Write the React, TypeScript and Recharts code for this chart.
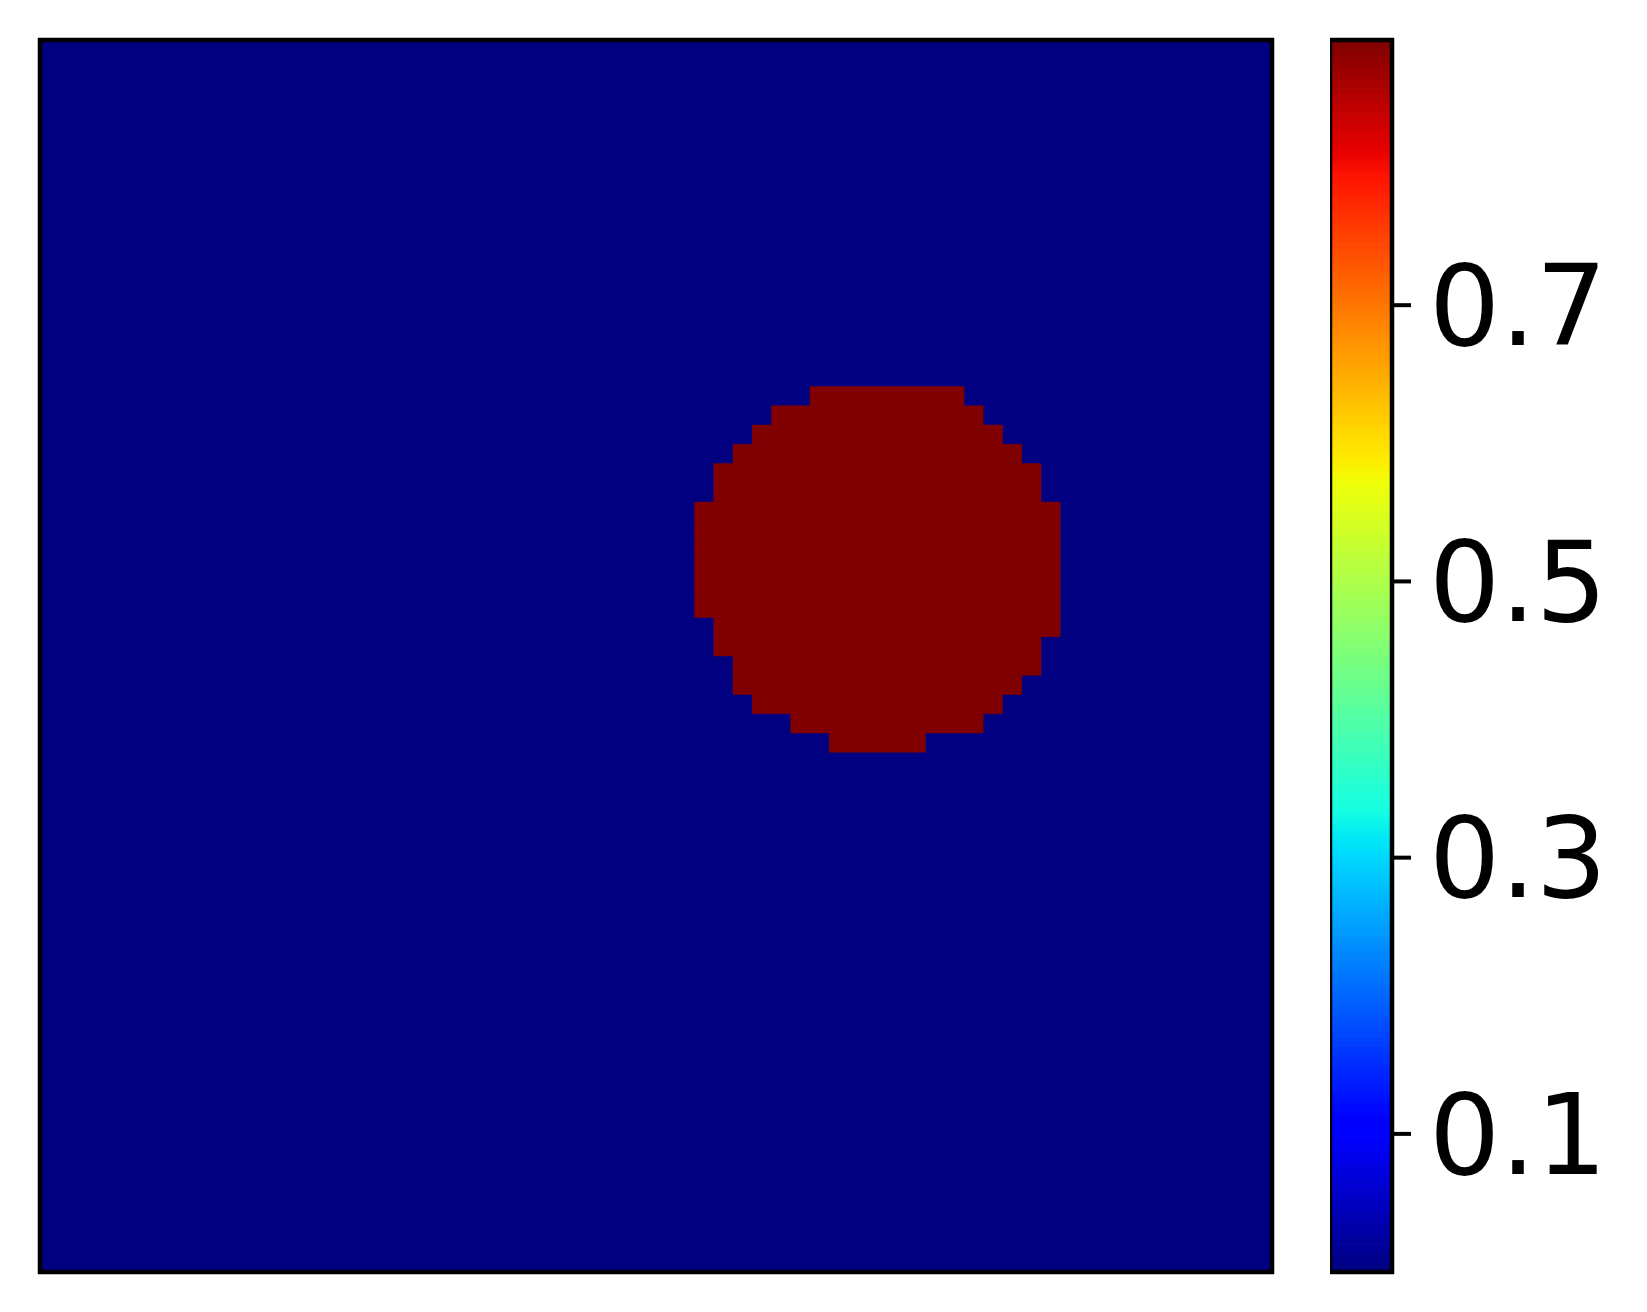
import { ComposedChart, ReferenceArea, XAxis, YAxis } from "recharts";

// 64 x 64 field: uniform background with one filled disc
const gridSize = 64;
const backgroundValue = 0;
const blobValue = 0.892;
// [row, first col, last col] of the filled cells, row 0 at the top
const blobRows: Array<[number, number, number]> = [
  [18, 40, 47],
  [19, 38, 48],
  [20, 37, 49],
  [21, 36, 50],
  [22, 35, 51],
  [23, 35, 51],
  [24, 34, 52],
  [25, 34, 52],
  [26, 34, 52],
  [27, 34, 52],
  [28, 34, 52],
  [29, 34, 52],
  [30, 35, 52],
  [31, 35, 51],
  [32, 36, 51],
  [33, 36, 50],
  [34, 37, 49],
  [35, 39, 48],
  [36, 41, 45],
];

const colorMin = 0;
const colorMax = 0.892;
const colorTicks = [0.1, 0.3, 0.5, 0.7];

// matplotlib "jet"
const jetSegments = {
  r: [[0, 0], [0.35, 0], [0.66, 1], [0.89, 1], [1, 0.5]],
  g: [[0, 0], [0.125, 0], [0.375, 1], [0.64, 1], [0.91, 0], [1, 0]],
  b: [[0, 0.5], [0.11, 1], [0.34, 1], [0.65, 0], [1, 0]],
};

function channel(points: number[][], t: number) {
  for (let i = 1; i < points.length; i++) {
    const [x0, y0] = points[i - 1];
    const [x1, y1] = points[i];
    if (t <= x1) return y0 + ((t - x0) / (x1 - x0)) * (y1 - y0);
  }
  return points[points.length - 1][1];
}

function jet(t: number) {
  const c = Math.max(0, Math.min(1, t));
  const to = (v: number) => Math.round(v * 255);
  return `rgb(${to(channel(jetSegments.r, c))},${to(channel(jetSegments.g, c))},${to(channel(jetSegments.b, c))})`;
}

const norm = (v: number) => (v - colorMin) / (colorMax - colorMin);

// colourbar drawn as thin bands, bottom to top
const barSteps = 256;
const barBands = Array.from({ length: barSteps }, (_, i) => ({
  y1: colorMin + ((colorMax - colorMin) * i) / barSteps,
  y2: colorMin + ((colorMax - colorMin) * (i + 1)) / barSteps,
  color: jet((i + 0.5) / barSteps),
}));

const font = "'DejaVu Sans', sans-serif";

export default function App() {
  return (
    <div style={{ position: "absolute", left: 0, top: 0, width: 1647, height: 1312, background: "#fff" }}>
      <div style={{ position: "absolute", left: 0, top: 0 }}>
        <ComposedChart width={1300} height={1312} margin={{ top: 40, left: 40, right: 28, bottom: 40 }}>
          <XAxis type="number" dataKey="x" domain={[0, gridSize]} hide allowDataOverflow />
          <YAxis type="number" dataKey="y" domain={[0, gridSize]} reversed hide allowDataOverflow />
          <ReferenceArea x1={0} x2={gridSize} y1={0} y2={gridSize} fill={jet(norm(backgroundValue))} fillOpacity={1} stroke="none" />
          {blobRows.map(([row, c0, c1]) => (
            <ReferenceArea
              key={row}
              x1={c0}
              x2={c1 + 1}
              y1={row}
              y2={row + 1}
              fill={jet(norm(blobValue))}
              fillOpacity={1}
              stroke={jet(norm(blobValue))}
              strokeWidth={0.5}
            />
          ))}
          <ReferenceArea x1={0} x2={gridSize} y1={0} y2={gridSize} fill="none" fillOpacity={0} stroke="#000" strokeWidth={4.5} />
        </ComposedChart>
      </div>
      <div style={{ position: "absolute", left: 1330, top: 0 }}>
        <ComposedChart width={317} height={1312} margin={{ top: 40, left: 0, right: 0, bottom: 40 }}>
          <XAxis type="number" dataKey="x" domain={[0, 1]} hide allowDataOverflow />
          <YAxis
            type="number"
            dataKey="v"
            orientation="right"
            domain={[colorMin, colorMax]}
            ticks={colorTicks}
            allowDataOverflow
            width={255}
            axisLine={false}
            tickSize={19}
            tickMargin={18}
            tickLine={{ stroke: "#000", strokeWidth: 4 }}
            tickFormatter={(v: number) => v.toFixed(1)}
            tick={{ fill: "#000", fontSize: 112, fontFamily: font }}
          />
          {barBands.map((b, i) => (
            <ReferenceArea
              key={i}
              x1={0}
              x2={1}
              y1={b.y1}
              y2={b.y2}
              fill={b.color}
              fillOpacity={1}
              stroke={b.color}
              strokeWidth={1}
            />
          ))}
          <ReferenceArea x1={0} x2={1} y1={colorMin} y2={colorMax} fill="none" fillOpacity={0} stroke="#000" strokeWidth={4.5} />
        </ComposedChart>
      </div>
    </div>
  );
}
